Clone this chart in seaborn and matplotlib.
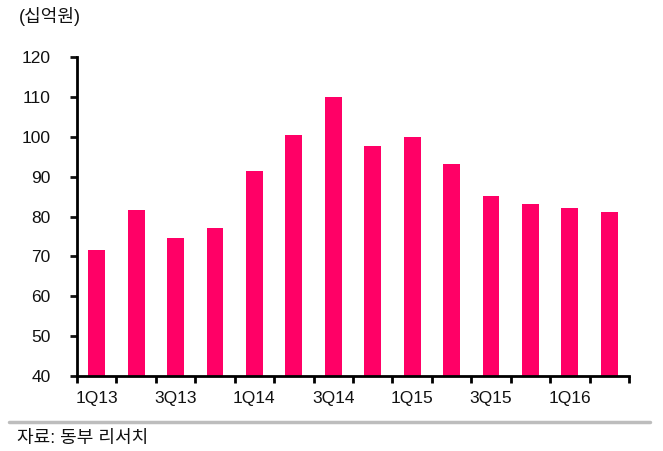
import matplotlib
matplotlib.use("Agg")
import matplotlib.pyplot as plt
import seaborn as sns
import pandas as pd
import numpy as np
from matplotlib.ticker import FixedLocator

quarters = ["1Q13", "2Q13", "3Q13", "4Q13", "1Q14", "2Q14", "3Q14", "4Q14",
            "1Q15", "2Q15", "3Q15", "4Q15", "1Q16", "2Q16"]
values = [71.5, 81.7, 74.6, 77.0, 91.5, 100.4, 110.0, 97.7, 100.0, 93.1, 85.1, 83.1, 82.1, 81.1]
tick_labels = ["1Q13", "", "3Q13", "", "1Q14", "", "3Q14", "", "1Q15", "", "3Q15", "", "1Q16", ""]
unit_label = "(십억원)"
source_label = "자료: 동부 리서치"

sns.set_theme(style="white")
plt.rcParams['font.family'] = ['Liberation Sans', 'Noto Sans CJK KR', 'DejaVu Sans']

df = pd.DataFrame({"q": quarters, "v": values})

fig = plt.figure(figsize=(6.63, 4.51), dpi=100)
ax = fig.add_axes([77/663, 1-376/451, (629-77)/663, (376-57)/451])

sns.barplot(data=df, x="q", y="v", color="#FF0066", width=0.43, ax=ax,
            saturation=1, edgecolor="none")

ax.set_xlim(-0.5, len(quarters) - 0.5)
ax.set_ylim(40, 120)
ax.set_yticks(np.arange(40, 121, 10))
ax.set_xticks(range(len(quarters)))
ax.set_xticklabels(tick_labels)
ax.xaxis.set_minor_locator(FixedLocator(np.arange(-0.5, len(quarters), 1.0)))
ax.tick_params(axis="x", which="major", length=0, pad=11, labelsize=12.5, colors="#111111")
ax.tick_params(axis="x", which="minor", length=5, width=2, direction="out", color="black", bottom=True)
ax.tick_params(axis="y", which="major", length=5, width=2, direction="out", pad=14, labelsize=12.5, colors="#111111", left=True)
ax.set_xlabel("")
ax.set_ylabel("")

sns.despine(ax=ax)
for s in ["left", "bottom"]:
    ax.spines[s].set_color("black")
    ax.spines[s].set_linewidth(2)

fig.text(19/663, 1-16/451, unit_label, fontsize=13, va="center", ha="left", color="#111111")
fig.add_artist(plt.Line2D([9/663, 650/663], [1-422/451, 1-422/451], color="#bdbdbd", lw=2.5))
fig.text(17/663, 1-438/451, source_label, fontsize=13, va="center", ha="left", color="#111111")

fig.savefig("out.png", dpi=100, facecolor="white")
